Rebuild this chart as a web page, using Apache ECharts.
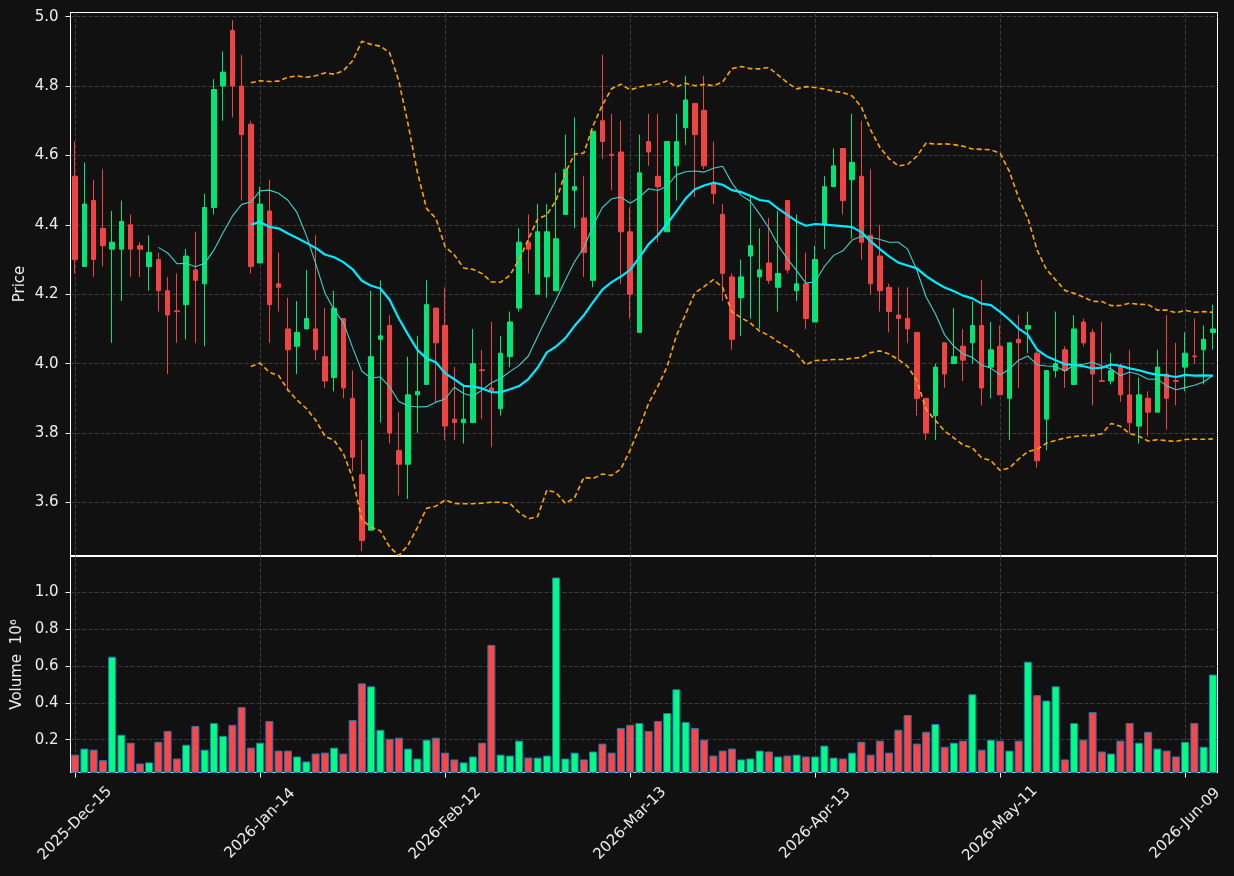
<!DOCTYPE html>
<html>
<head>
<meta charset="utf-8">
<title>Price chart</title>
<script src="https://cdn.jsdelivr.net/npm/echarts@6.0.0/dist/echarts.min.js"></script>
<style>
	html, body { margin: 0; padding: 0; background: #111111; }
	#main { width: 1234px; height: 876px; }
</style>
</head>
<body>
<div id="main"></div>
<script>
// trading days
var dates = [
	'2025-Dec-15', '2025-Dec-16', '2025-Dec-17', '2025-Dec-18', '2025-Dec-19', '2025-Dec-22', '2025-Dec-23', '2025-Dec-24', '2025-Dec-26', '2025-Dec-29',
	'2025-Dec-30', '2025-Dec-31', '2026-Jan-02', '2026-Jan-05', '2026-Jan-06', '2026-Jan-07', '2026-Jan-08', '2026-Jan-09', '2026-Jan-12', '2026-Jan-13',
	'2026-Jan-14', '2026-Jan-15', '2026-Jan-16', '2026-Jan-20', '2026-Jan-21', '2026-Jan-22', '2026-Jan-23', '2026-Jan-26', '2026-Jan-27', '2026-Jan-28',
	'2026-Jan-29', '2026-Jan-30', '2026-Feb-02', '2026-Feb-03', '2026-Feb-04', '2026-Feb-05', '2026-Feb-06', '2026-Feb-09', '2026-Feb-10', '2026-Feb-11',
	'2026-Feb-12', '2026-Feb-13', '2026-Feb-17', '2026-Feb-18', '2026-Feb-19', '2026-Feb-20', '2026-Feb-23', '2026-Feb-24', '2026-Feb-25', '2026-Feb-26',
	'2026-Feb-27', '2026-Mar-02', '2026-Mar-03', '2026-Mar-04', '2026-Mar-05', '2026-Mar-06', '2026-Mar-09', '2026-Mar-10', '2026-Mar-11', '2026-Mar-12',
	'2026-Mar-13', '2026-Mar-16', '2026-Mar-17', '2026-Mar-18', '2026-Mar-19', '2026-Mar-20', '2026-Mar-23', '2026-Mar-24', '2026-Mar-25', '2026-Mar-26',
	'2026-Mar-27', '2026-Mar-30', '2026-Mar-31', '2026-Apr-01', '2026-Apr-02', '2026-Apr-06', '2026-Apr-07', '2026-Apr-08', '2026-Apr-09', '2026-Apr-10',
	'2026-Apr-13', '2026-Apr-14', '2026-Apr-15', '2026-Apr-16', '2026-Apr-17', '2026-Apr-20', '2026-Apr-21', '2026-Apr-22', '2026-Apr-23', '2026-Apr-24',
	'2026-Apr-27', '2026-Apr-28', '2026-Apr-29', '2026-Apr-30', '2026-May-01', '2026-May-04', '2026-May-05', '2026-May-06', '2026-May-07', '2026-May-08',
	'2026-May-11', '2026-May-12', '2026-May-13', '2026-May-14', '2026-May-15', '2026-May-18', '2026-May-19', '2026-May-20', '2026-May-21', '2026-May-22',
	'2026-May-26', '2026-May-27', '2026-May-28', '2026-May-29', '2026-Jun-01', '2026-Jun-02', '2026-Jun-03', '2026-Jun-04', '2026-Jun-05', '2026-Jun-08',
	'2026-Jun-09', '2026-Jun-10', '2026-Jun-11', '2026-Jun-12'
];

var openPrices = [
	4.54, 4.28, 4.47, 4.39, 4.33, 4.33, 4.40, 4.34, 4.28, 4.30,
	4.21, 4.152, 4.17, 4.27, 4.23, 4.45, 4.80, 4.96, 4.80, 4.69,
	4.29, 4.44, 4.23, 4.10, 4.05, 4.10, 4.10, 4.02, 3.96, 4.13,
	3.90, 3.68, 3.52, 4.07, 4.11, 3.75, 3.71, 3.91, 3.94, 4.16,
	4.11, 3.84, 3.83, 3.83, 3.982, 3.93, 3.87, 4.02, 4.16, 4.35,
	4.20, 4.25, 4.21, 4.43, 4.50, 4.42, 4.24, 4.70, 4.603, 4.61,
	4.38, 4.09, 4.64, 4.54, 4.38, 4.57, 4.68, 4.75, 4.73, 4.52,
	4.43, 4.25, 4.19, 4.31, 4.25, 4.29, 4.22, 4.47, 4.21, 4.23,
	4.12, 4.40, 4.51, 4.62, 4.53, 4.54, 4.37, 4.31, 4.22, 4.14,
	4.13, 4.09, 3.90, 3.85, 4.06, 4.00, 4.05, 4.06, 4.11, 3.99,
	4.05, 3.90, 4.07, 4.10, 4.03, 3.84, 3.98, 4.04, 3.94, 4.12,
	4.09, 3.951, 3.95, 3.99, 3.91, 3.82, 3.90, 3.86, 3.97, 3.951,
	3.99, 4.022, 4.04, 4.09
];
var highPrices = [
	4.64, 4.58, 4.53, 4.56, 4.44, 4.47, 4.43, 4.35, 4.37, 4.32,
	4.25, 4.26, 4.33, 4.38, 4.49, 4.82, 4.90, 4.99, 4.89, 4.70,
	4.51, 4.53, 4.32, 4.19, 4.18, 4.27, 4.37, 4.16, 4.21, 4.13,
	3.98, 3.78, 4.21, 4.24, 4.14, 3.86, 4.02, 4.08, 4.24, 4.16,
	4.22, 3.99, 3.94, 4.10, 4.04, 4.12, 4.08, 4.15, 4.39, 4.43,
	4.46, 4.46, 4.55, 4.66, 4.71, 4.54, 4.67, 4.89, 4.72, 4.70,
	4.45, 4.66, 4.72, 4.72, 4.64, 4.72, 4.83, 4.75, 4.83, 4.64,
	4.46, 4.26, 4.30, 4.48, 4.39, 4.42, 4.44, 4.47, 4.43, 4.32,
	4.34, 4.54, 4.62, 4.62, 4.72, 4.70, 4.56, 4.40, 4.23, 4.22,
	4.22, 4.09, 3.90, 4.00, 4.06, 4.16, 4.10, 4.18, 4.24, 4.12,
	4.11, 4.06, 4.14, 4.15, 4.035, 3.98, 4.15, 4.05, 4.14, 4.13,
	4.10, 4.12, 4.03, 4.00, 4.04, 3.96, 3.92, 4.04, 4.14, 4.06,
	4.09, 4.13, 4.11, 4.17
];
var lowPrices = [
	4.26, 4.28, 4.25, 4.28, 4.06, 4.18, 4.25, 4.25, 4.21, 4.15,
	3.97, 4.06, 4.07, 4.06, 4.05, 4.43, 4.70, 4.71, 4.47, 4.26,
	4.29, 4.06, 4.15, 3.92, 3.97, 4.10, 4.01, 3.93, 3.92, 3.90,
	3.69, 3.46, 3.52, 3.83, 3.77, 3.62, 3.61, 3.80, 3.94, 3.89,
	3.78, 3.78, 3.77, 3.83, 3.84, 3.76, 3.85, 3.99, 4.15, 4.26,
	4.20, 4.19, 4.21, 4.43, 4.39, 4.25, 4.22, 4.59, 4.50, 4.23,
	4.13, 4.09, 4.57, 4.35, 4.38, 4.47, 4.63, 4.48, 4.56, 4.46,
	4.18, 4.04, 4.08, 4.13, 4.10, 4.23, 4.15, 4.26, 4.18, 4.10,
	4.12, 4.33, 4.51, 4.43, 4.36, 4.30, 4.20, 4.15, 4.09, 4.01,
	4.06, 3.85, 3.78, 3.78, 3.93, 4.00, 3.95, 4.00, 3.88, 3.90,
	3.91, 3.78, 3.93, 4.03, 3.70, 3.75, 3.96, 3.93, 3.94, 4.05,
	3.88, 3.949, 3.94, 3.89, 3.80, 3.77, 3.79, 3.86, 3.81, 3.88,
	3.92, 4.00, 3.94, 4.04
];
var closePrices = [
	4.30, 4.46, 4.30, 4.34, 4.35, 4.41, 4.33, 4.33, 4.32, 4.21,
	4.14, 4.15, 4.31, 4.24, 4.45, 4.79, 4.84, 4.80, 4.66, 4.28,
	4.46, 4.17, 4.22, 4.04, 4.09, 4.13, 4.04, 3.95, 4.16, 3.93,
	3.73, 3.49, 4.02, 4.08, 3.80, 3.71, 3.91, 3.92, 4.17, 4.06,
	3.82, 3.83, 3.84, 4.00, 3.98, 3.92, 4.03, 4.12, 4.35, 4.33,
	4.38, 4.38, 4.36, 4.56, 4.51, 4.32, 4.67, 4.64, 4.60, 4.38,
	4.20, 4.55, 4.61, 4.51, 4.64, 4.64, 4.76, 4.66, 4.57, 4.49,
	4.26, 4.07, 4.25, 4.34, 4.27, 4.24, 4.26, 4.27, 4.23, 4.13,
	4.30, 4.51, 4.57, 4.47, 4.58, 4.35, 4.23, 4.21, 4.15, 4.13,
	4.10, 3.90, 3.80, 3.99, 3.97, 4.02, 4.01, 4.11, 3.93, 4.04,
	3.91, 4.06, 4.06, 4.11, 3.72, 3.98, 4.00, 3.98, 4.10, 4.06,
	3.97, 3.949, 3.98, 3.91, 3.83, 3.91, 3.86, 3.99, 3.90, 3.949,
	4.03, 4.02, 4.07, 4.10
];
// volume, millions of shares
var volumes = [
	0.119, 0.152, 0.146, 0.089, 0.651, 0.227, 0.184, 0.071, 0.077, 0.189,
	0.248, 0.098, 0.173, 0.275, 0.146, 0.291, 0.221, 0.281, 0.377, 0.157,
	0.184, 0.302, 0.141, 0.141, 0.109, 0.082, 0.125, 0.130, 0.157, 0.125,
	0.307, 0.506, 0.490, 0.254, 0.205, 0.211, 0.152, 0.098, 0.200, 0.211,
	0.130, 0.093, 0.077, 0.109, 0.184, 0.715, 0.119, 0.114, 0.195, 0.103,
	0.103, 0.114, 1.081, 0.098, 0.130, 0.093, 0.136, 0.179, 0.130, 0.264,
	0.281, 0.291, 0.248, 0.302, 0.345, 0.474, 0.297, 0.264, 0.200, 0.114,
	0.141, 0.152, 0.093, 0.098, 0.141, 0.136, 0.109, 0.114, 0.119, 0.109,
	0.109, 0.168, 0.103, 0.098, 0.130, 0.189, 0.119, 0.195, 0.130, 0.254,
	0.334, 0.179, 0.243, 0.286, 0.162, 0.184, 0.195, 0.447, 0.146, 0.200,
	0.195, 0.141, 0.195, 0.624, 0.442, 0.413, 0.490, 0.093, 0.291, 0.200,
	0.350, 0.136, 0.125, 0.195, 0.291, 0.184, 0.243, 0.152, 0.141, 0.109,
	0.189, 0.291, 0.162, 0.554
];

var upColor = '#00e676';
var downColor = '#f04343';
var textColor = '#eeeeee';
var gridColor = '#3c3c3c';

function movingAverage(values, n) {
	var out = [];
	for (var i = 0; i < values.length; i++) {
		if (i < n - 1) { out.push('-'); continue; }
		var sum = 0;
		for (var j = i - n + 1; j <= i; j++) sum += values[j];
		out.push(+(sum / n).toFixed(4));
	}
	return out;
}

// bollinger bands, population std
function bollinger(values, n, k) {
	var upper = [], lower = [];
	for (var i = 0; i < values.length; i++) {
		if (i < n - 1) { upper.push('-'); lower.push('-'); continue; }
		var sum = 0, sq = 0, j;
		for (j = i - n + 1; j <= i; j++) sum += values[j];
		var mean = sum / n;
		for (j = i - n + 1; j <= i; j++) sq += (values[j] - mean) * (values[j] - mean);
		var sd = Math.sqrt(sq / n);
		upper.push(+(mean + k * sd).toFixed(4));
		lower.push(+(mean - k * sd).toFixed(4));
	}
	return { upper: upper, lower: lower };
}

var candles = [];
var volumeBars = [];
for (var i = 0; i < dates.length; i++) {
	candles.push([openPrices[i], closePrices[i], lowPrices[i], highPrices[i]]);
	volumeBars.push({
		value: volumes[i],
		itemStyle: { color: closePrices[i] >= openPrices[i] ? '#00ff80' : '#ff4545' }
	});
}
var ma10 = movingAverage(closePrices, 10);
var ma20 = movingAverage(closePrices, 20);
var bands = bollinger(closePrices, 20, 2);

function everyTwenty(index) {
	return index % 20 === 0;
}

var dashed = { color: gridColor, type: [4, 2], width: 1 };

var myChart = echarts.init(document.getElementById('main'));
var option = {
	backgroundColor: '#111111',
	animation: false,
	textStyle: { fontFamily: 'DejaVu Sans', color: textColor },
	grid: [
		{ left: 70.5, width: 1147, top: 12.5, height: 543, show: true, borderColor: '#ffffff', borderWidth: 1, backgroundColor: 'transparent' },
		{ left: 70.5, width: 1147, top: 556.5, height: 216, show: true, borderColor: '#ffffff', borderWidth: 1, backgroundColor: 'transparent' }
	],
	xAxis: [
		{
			type: 'category',
			gridIndex: 0,
			data: dates,
			boundaryGap: true,
			axisLine: { show: false },
			axisTick: { show: false },
			axisLabel: { show: false },
			splitLine: { show: true, interval: everyTwenty, alignWithLabel: true, lineStyle: dashed }
		},
		{
			type: 'category',
			gridIndex: 1,
			data: dates,
			boundaryGap: true,
			axisLine: { show: true, lineStyle: { color: '#ffffff' } },
			axisTick: { show: true, interval: everyTwenty, alignWithLabel: true, length: 5, lineStyle: { color: '#ffffff' } },
			axisLabel: {
				interval: everyTwenty,
				rotate: 45,
				align: 'center',
				verticalAlign: 'middle',
				margin: 51,
				fontSize: 15,
				color: textColor
			},
			splitLine: { show: true, interval: everyTwenty, alignWithLabel: true, lineStyle: dashed }
		}
	],
	yAxis: [
		{
			type: 'value',
			gridIndex: 0,
			min: 3.447,
			max: 5.012,
			splitNumber: 7,
			name: 'Price',
			nameLocation: 'middle',
			nameGap: 43,
			nameMoveOverlap: false,
			nameTextStyle: { fontSize: 15, color: textColor },
			axisLine: { show: true, lineStyle: { color: '#ffffff' } },
			axisTick: { show: true, length: 5, lineStyle: { color: '#ffffff' } },
			axisLabel: {
				fontSize: 15,
				color: textColor,
				margin: 12,
				showMinLabel: false,
				showMaxLabel: false,
				formatter: function(v) { return v.toFixed(1); }
			},
			splitLine: { show: true, showMinLine: false, showMaxLine: false, lineStyle: dashed }
		},
		{
			type: 'value',
			gridIndex: 1,
			min: 0.022,
			max: 1.195,
			splitNumber: 5,
			name: 'Volume  10\u2076',
			nameLocation: 'middle',
			nameGap: 46,
			nameMoveOverlap: false,
			nameTextStyle: { fontSize: 15, color: textColor },
			axisLine: { show: true, lineStyle: { color: '#ffffff' } },
			axisTick: { show: true, length: 5, lineStyle: { color: '#ffffff' } },
			axisLabel: {
				fontSize: 15,
				color: textColor,
				margin: 12,
				showMinLabel: false,
				showMaxLabel: false,
				formatter: function(v) { return v.toFixed(1); }
			},
			splitLine: { show: true, showMinLine: false, showMaxLine: false, lineStyle: dashed }
		}
	],
	series: [
		{
			name: 'OHLC',
			type: 'candlestick',
			xAxisIndex: 0,
			yAxisIndex: 0,
			data: candles,
			barWidth: 5,
			itemStyle: {
				color: upColor,
				color0: downColor,
				borderColor: upColor,
				borderColor0: downColor,
				borderWidth: 1
			}
		},
		{
			name: 'MA10',
			type: 'line',
			xAxisIndex: 0,
			yAxisIndex: 0,
			data: ma10,
			showSymbol: false,
			lineStyle: { color: '#40d0c8', width: 1.1 }
		},
		{
			name: 'MA20',
			type: 'line',
			xAxisIndex: 0,
			yAxisIndex: 0,
			data: ma20,
			showSymbol: false,
			lineStyle: { color: '#00eaff', width: 2.2 }
		},
		{
			name: 'BB upper',
			type: 'line',
			xAxisIndex: 0,
			yAxisIndex: 0,
			data: bands.upper,
			showSymbol: false,
			lineStyle: { color: '#ffa500', width: 1.6, type: [5, 3] }
		},
		{
			name: 'BB lower',
			type: 'line',
			xAxisIndex: 0,
			yAxisIndex: 0,
			data: bands.lower,
			showSymbol: false,
			lineStyle: { color: '#ffa500', width: 1.6, type: [5, 3] }
		},
		{
			name: 'Volume',
			type: 'bar',
			xAxisIndex: 1,
			yAxisIndex: 1,
			data: volumeBars,
			barWidth: 8,
			itemStyle: { borderColor: '#1f77b4', borderWidth: 1 }
		}
	]
};
myChart.setOption(option);
</script>
</body>
</html>
